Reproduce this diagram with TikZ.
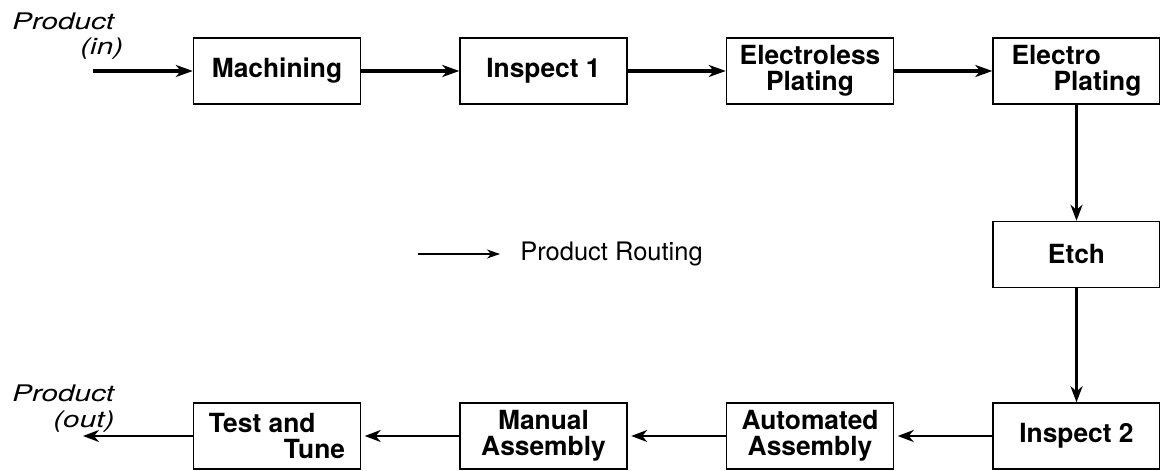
\documentclass[tikz,border=0pt]{standalone}
\usepackage{fontspec}
\setmainfont{TeX Gyre Heros}
\newfontfamily\labelfont[FakeStretch=1.3]{TeX Gyre Heros}
\usetikzlibrary{arrows.meta}

\tikzset{
  stage/.style={draw, line width=0.8pt, minimum width=3.34cm, minimum height=1.32cm,
    inner sep=2pt, align=center, font=\bfseries\fontsize{15}{15}\selectfont},
  mainflow/.style={line width=2.2pt, -{Stealth[length=3.4mm,width=2.4mm,inset=1mm]}},
  downflow/.style={line width=1.5pt, -{Stealth[length=3.2mm,width=2.4mm,inset=1mm]}},
  backflow/.style={line width=1.3pt, -{Stealth[length=3.2mm,width=2.4mm,inset=1mm]}, shorten >=2pt},
  keyflow/.style={line width=0.6pt, -{Stealth[length=2.6mm,width=1.8mm,inset=0.8mm]}},
  endlabel/.style={inner sep=0pt, align=left, font=\labelfont\itshape\fontsize{13}{14.5}\selectfont}
}

\begin{document}
\begin{tikzpicture}

\useasboundingbox (0,0) rectangle (23.2,9.42);

% Top row
\node[stage] (machining) at (5.54,8.0) {Machining};
\node[stage] (inspectA) at (10.87,8.0) {Inspect 1};
\node[stage] (electroless) at (16.2,8.0) {Electroless\\Plating};
\node[stage, align=left] (electro) at (21.53,8.0) {Electro\\\hspace*{0.84cm}Plating};

% Right column
\node[stage] (etch) at (21.53,4.33) {Etch};

% Bottom row
\node[stage] (inspectB) at (21.53,0.70) {Inspect 2};
\node[stage] (automated) at (16.2,0.70) {Automated\\Assembly};
\node[stage] (manual) at (10.87,0.70) {Manual\\Assembly};
\node[stage, align=left] (testtune) at (5.54,0.70) {Test and\\\hspace*{1.5cm}Tune};

% Product in / out
\node[endlabel, anchor=north west] (prodin) at (0.24,9.17) {Product\\\hspace*{1.36cm}(in)};
\node[endlabel, anchor=north west] (prodout) at (0.24,1.72) {Product\\\hspace*{0.82cm}(out)};
\coordinate (inStart) at (1.86,8.0);
\coordinate (outEnd) at (1.66,0.70);

% Routing
\draw[mainflow] (inStart) -- (machining);
\draw[mainflow] (machining) -- (inspectA);
\draw[mainflow] (inspectA) -- (electroless);
\draw[mainflow] (electroless) -- (electro);
\draw[downflow] (electro) -- (etch);
\draw[downflow] (etch) -- (inspectB);
\draw[backflow] (inspectB) -- (automated);
\draw[backflow] (automated) -- (manual);
\draw[backflow] (manual) -- (testtune);
\draw[backflow, shorten >=0pt] (testtune) -- (outEnd);

% Legend
\coordinate (keyA) at (8.36,4.34);
\coordinate (keyB) at (10.0,4.34);
\draw[keyflow] (keyA) -- (keyB);
\node[anchor=west, inner sep=0pt, font=\fontsize{14.5}{16}\selectfont] (keytext) at (10.4,4.34) {Product Routing};

\end{tikzpicture}
\end{document}
